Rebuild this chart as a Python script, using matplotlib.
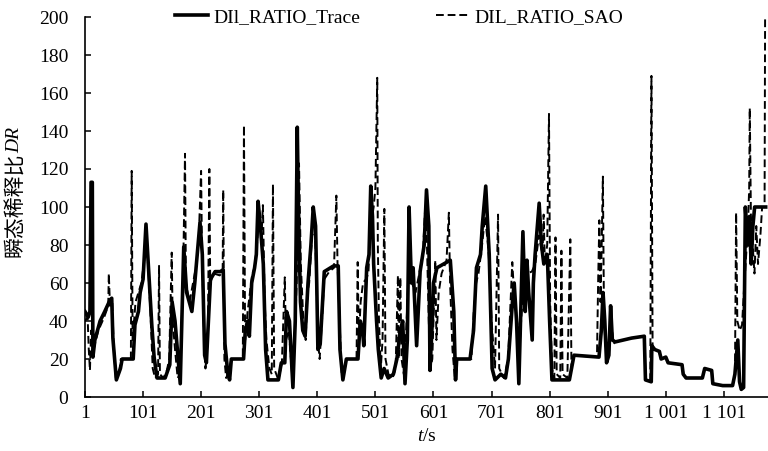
import matplotlib
matplotlib.use("Agg")
import matplotlib.pyplot as plt

# DIl_RATIO_Trace (solid), vertices
trace_t = [1, 6.5, 9.5, 11.4, 13.6, 14.6, 18, 27, 35, 44, 47, 49, 55, 62, 65, 84, 87, 93, 96, 101,
           106, 110, 116, 120, 125, 139, 147, 151, 156, 160, 165, 171, 176, 185, 190, 199, 203, 207,
           210, 217, 225, 234, 239, 242, 247, 250, 253, 274, 277, 281, 284, 288, 293, 296, 299, 303,
           308, 312, 316, 334, 339, 345, 348, 353, 359, 363, 366.5, 368.5, 372, 376, 380, 385, 390,
           394, 398, 400, 402, 406, 413, 429, 437, 440, 445, 451, 471, 475, 479, 481, 486, 490, 493,
           496, 498, 503, 506, 511, 516, 523, 532, 538, 544, 548, 552, 556, 559, 563, 566, 572, 578,
           585, 589, 593, 595, 599, 601, 607, 630, 636, 639, 641, 664, 670, 675, 682, 685, 691, 697,
           700, 702, 707, 717, 725, 730, 737, 740, 744, 748, 755, 759, 762, 765, 771, 773, 776, 783,
           787, 791, 797, 801, 805, 835, 843, 886, 890, 893, 896, 899, 903, 906, 909, 914, 942, 964,
           966, 976, 977, 982, 990, 993, 1001, 1005, 1029, 1031, 1036, 1064, 1068, 1080, 1082, 1099,
           1116, 1120, 1125, 1128, 1131, 1135, 1138, 1142, 1145, 1148, 1151, 1154, 1158, 1173]
trace_dr = [45, 42, 45, 113, 113, 21, 30, 40, 45, 51, 52, 31, 9, 15, 20, 20, 38, 45, 55, 62, 91,
            70, 38, 21, 10, 10, 17, 50, 40, 25, 7, 79, 55, 45, 60, 92, 75, 22, 18,
            62, 66, 66, 67, 28, 12, 9, 20, 20, 35, 40, 32, 60, 68, 75, 103, 90, 70,
            25, 9, 9, 18, 18, 45, 40, 5, 40, 142, 100, 50, 35, 32, 60, 80, 100, 90,
            60, 25, 28, 66, 69, 69, 25, 9, 20, 20, 40, 35, 27, 68, 75, 111, 95, 70,
            40, 25, 10, 15, 10, 12, 20, 35, 40, 7, 30, 100, 60, 68, 27, 66, 80, 109,
            90, 14, 40, 60, 68, 72, 45, 9, 20, 20, 35, 68, 75, 90, 111, 75, 40, 15,
            9, 12, 10, 20, 50, 60, 40, 7, 87, 45, 72, 55, 30, 60, 75, 102, 80, 70,
            75, 40, 9, 9, 22, 21, 35, 55, 40, 18, 22, 48, 30, 29, 31, 32, 9, 8,
            27, 25, 24, 20, 21, 18, 17, 12, 10, 10, 15, 14, 7, 6, 6, 12,
            30, 8, 4, 5, 100, 80, 95, 70, 90, 100, 100, 100]

# DIL_RATIO_SAO (dashed)
sao_t = [1, 5.5, 7.5, 9.5, 11.6, 15.7, 24, 34, 41, 42, 44, 48, 50, 54, 59.5, 62.6, 80, 81.4, 83, 88,
         93, 98, 103, 106, 109.5, 113.6, 117.6, 121.7, 126.8, 128.5, 130, 136, 142, 146, 150.3, 152,
         156, 160.5, 164.6, 169.7, 173.2, 174.8, 181, 187, 193, 197, 200.9, 202.3, 205.3, 208.4,
         212.5, 215.1, 216.6, 222.7, 233, 238, 239, 241, 244, 248, 253, 272.7, 274.7, 276.7, 281,
         285, 289, 293, 297, 301, 305, 307.3, 310.4, 313.4, 318.5, 322.6, 324.6, 326.7, 334, 340,
         345, 347, 352, 358, 362, 365.5, 369.5, 372.6, 377, 381, 384, 387, 392, 397, 400, 402, 405,
         409, 413, 421.5, 429.7, 433.8, 435.8, 440, 443, 447, 452, 468.5, 470.5, 472.5, 475.6,
         479.7, 484.8, 488.9, 493, 498, 501, 504.2, 505.2, 507.2, 510.3, 513.3, 516.4, 518.4, 523.5,
         530.7, 535.8, 539.8, 540.9, 543.9, 546, 550, 554, 559, 564, 570, 576.6, 582.7, 586.8, 589.8,
         592.9, 595.9, 599, 604.1, 606.1, 610, 615, 623.5, 627.5, 629.6, 633.7, 637.7, 641.8, 666.3,
         670.4, 674.5, 678.5, 684.7, 689.8, 694.9, 697, 701, 707, 712.2, 714.2, 722.4, 729.5, 736.7,
         739.7, 744.8, 749.9, 756, 762.2, 770.3, 776.4, 782.6, 788.7, 790.7, 792.8, 796.8, 799.9,
         801.9, 805, 809.1, 811.1, 813.2, 819.3, 821.3, 823.3, 831.5, 836.6, 838.6, 842.7, 882.5,
         884.5, 886.6, 888.6, 890.6, 892.7, 894.7, 898.8, 902.9, 907, 911, 914.1, 941.6, 964.1, 966.1,
         974.3, 976.3, 978.3, 982.4, 989.6, 992.6, 1000.8, 1004.9, 1029.3, 1031.4, 1035.5, 1064,
         1068.1, 1080.3, 1082.4, 1098.7, 1116, 1120.1, 1122.1, 1124.2, 1128.3, 1132.3, 1135.4,
         1138.5, 1142.5, 1144.6, 1145.6, 1147.6, 1150.7, 1153.7, 1156.8, 1159.8, 1163.9, 1166.9,
         1171.1, 1172]
sao_dr = [40, 42, 25, 14, 35, 25, 35, 42, 48, 65, 48, 50, 30, 10, 12, 20, 20, 119, 30, 50, 55, 60, 72,
          85, 70, 45, 15, 10, 12, 69, 12, 10, 14, 20, 76, 40, 25, 10, 12, 60,
          128, 60, 50, 60, 70, 85, 119, 80, 40, 15, 30, 120, 60, 65, 64, 66, 109,
          20, 10, 13, 20, 20, 143, 30, 45, 55, 65, 68, 80, 95, 85, 101, 50, 30, 15,
          12, 112, 15, 9, 18, 63, 30, 35, 10, 30, 60, 123, 70, 40, 30, 55, 60, 85,
          88, 55, 30, 20, 40, 62, 66, 68, 106, 70, 35, 12, 15, 20, 20, 71, 30, 50,
          60, 62, 65, 90, 100, 110, 168, 80, 40, 15, 30, 99, 20, 12, 10, 15, 64, 20,
          63, 20, 12, 35, 70, 60, 55, 65, 75, 100, 80, 40, 15, 20, 72, 30, 55, 65,
          72, 97, 60, 25, 10, 20, 20, 45, 60, 65, 80, 95, 80, 70, 40, 15, 96, 15,
          10, 20, 71, 55, 40, 30, 60, 65, 66, 70, 85, 75, 96, 70, 80, 149, 50, 15,
          10, 84, 12, 10, 77, 12, 10, 83, 15, 22, 21, 60, 93, 50, 80, 116, 40, 20,
          22, 40, 28, 29, 31, 32, 9, 8, 169, 26, 25, 24, 20, 21, 18, 17, 12,
          10, 10, 15, 14, 7, 6, 6, 12, 97, 40, 35, 38, 55, 70, 90,
          110, 152, 95, 80, 65, 90, 70, 85, 100, 100, 200]

xticks = [1, 101, 201, 301, 401, 501, 601, 701, 801, 901, 1001, 1101]
xticklabels = ["1", "101", "201", "301", "401", "501", "601", "701", "801", "901", "1 001", "1 101"]
yticks = [0, 20, 40, 60, 80, 100, 120, 140, 160, 180, 200]

plt.rcParams['font.family'] = ['Liberation Serif', 'Noto Sans CJK SC']
plt.rcParams['mathtext.fontset'] = 'custom'
plt.rcParams['mathtext.it'] = 'Liberation Serif:italic'
plt.rcParams['mathtext.rm'] = 'Liberation Serif'

fig = plt.figure(figsize=(7.68, 4.51), dpi=100)
ax = fig.add_axes([85 / 768, 1 - 397 / 451, 683 / 768, 380 / 451])

ax.plot(trace_t, trace_dr, color='black', lw=2.6, solid_joinstyle='round', label='DIl_RATIO_Trace')
ax.plot(sao_t, sao_dr, color='black', lw=1.4, linestyle=(0, (4, 2)), label='DIL_RATIO_SAO')

ax.set_xlim(1, 1177)
ax.set_ylim(0, 200)
ax.set_xticks(xticks)
ax.set_xticklabels(xticklabels)
ax.set_yticks(yticks)
ax.tick_params(direction='in', length=4, width=1.1, labelsize=14)
ax.tick_params(axis='y', pad=12)
ax.tick_params(axis='x', pad=6)
for s in ['top', 'right']:
    ax.spines[s].set_visible(False)
for s in ['left', 'bottom']:
    ax.spines[s].set_linewidth(1.2)

ax.set_xlabel('$t$/s', fontsize=14, labelpad=4)

# y label: Chinese part and italic DR as separate texts
fig.text(15 / 768, 1 - 257 / 451, '瞬态稀释比', rotation=90, ha='center', va='bottom',
         fontsize=15, family=['Noto Sans CJK SC'])
fig.text(15 / 768, 1 - 153 / 451, 'DR', rotation=90, ha='center', va='bottom',
         fontsize=14, style='italic', family=['Liberation Serif'])

ax.legend(loc='center left', bbox_to_anchor=(90 / 683, 1.0), ncol=2, frameon=False,
          fontsize=14, borderpad=0, borderaxespad=0, handlelength=1.7,
          handletextpad=0.26, columnspacing=3.9)

fig.savefig('out.png', dpi=100)
